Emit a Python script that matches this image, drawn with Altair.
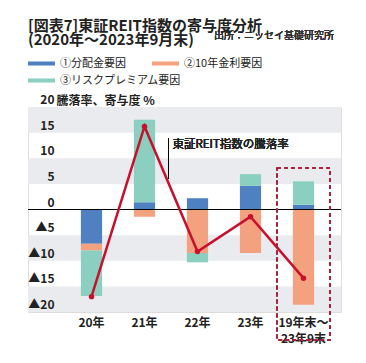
import altair as alt
import pandas as pd

# ---- data ----
categories = ["20年", "21年", "22年", "23年", "19年末～\n23年9末"]
factors = ["①分配金要因", "②10年金利要因", "③リスクプレミアム要因"]
dividend = [-6.7, 1.4, 2.2, 4.6, 0.9]
rate = [-1.3, -1.4, -8.5, -8.5, -18.6]
risk = [-8.9, 16.1, -1.8, 2.3, 4.6]
index_change = [-17.0, 16.2, -8.2, -1.4, -13.4]
band_lo = [15, 5, -5, -15]
band_hi = [20, 10, -10, -20]

colors = ["#4f80c1", "#f4a17f", "#8bcfc0"]
red = "#c8102e"
FONT = "Noto Sans CJK JP"

rows = []
for i, c in enumerate(categories):
    for j, vals in enumerate([dividend, rate, risk]):
        rows.append({"cat": c, "factor": factors[j], "ord": j, "value": vals[i]})
bars_df = pd.DataFrame(rows)
line_df = pd.DataFrame({"cat": categories, "value": index_change})
bands_df = pd.DataFrame({"lo": band_lo, "hi": band_hi})

xscale = alt.Scale(domain=categories, range=[37, 302], paddingInner=0.6, paddingOuter=0.3)
yscale = alt.Scale(domain=[-20, 20], nice=False, zero=False)

xaxis = alt.Axis(title=None, domain=False, ticks=False, labelAngle=0, labelPadding=5,
                 labelFontSize=12, labelFontWeight="bold", labelColor="#222",
                 labelExpr="split(datum.label, '\\n')", labelLineHeight=16,
                 labelBaseline="top", labelFont=FONT)
yaxis = alt.Axis(title="騰落率、寄与度 %", tickCount=8, grid=False, domain=False, ticks=False,
                 labelExpr="datum.value < 0 ? '▲' + abs(datum.value) : datum.label",
                 labelAlign="right", labelPadding=-26, labelBaseline="alphabetic",
                 labelOffset=-3.5, labelFontSize=12, labelFontWeight="bold",
                 labelOverlap=False, labelSeparation=0, labelFlush=False,
                 labelColor="#222", labelFont=FONT,
                 titleAngle=0, titleAlign="left", titleBaseline="middle", titleX=28, titleY=-7,
                 titleFontSize=12, titleFontWeight="bold", titleColor="#222", titleFont=FONT,
                 zindex=2)

X = alt.X("cat:N", scale=xscale, axis=xaxis, sort=categories)
Y = alt.Y("value:Q", scale=yscale, axis=yaxis, stack="zero")

bands = alt.Chart(bands_df).mark_rect(color="#e9ebee").encode(
    y=alt.Y("lo:Q", scale=yscale, axis=yaxis), y2="hi:Q"
)

bars = alt.Chart(bars_df).mark_bar().encode(
    x=X,
    y=Y,
    color=alt.Color("factor:N", scale=alt.Scale(domain=factors, range=colors),
                    legend=alt.Legend(title=None, orient="none", legendX=0, legendY=-57,
                                      direction="horizontal",
                                      columns=2, gridAlign="none", columnPadding=-29,
                                      rowPadding=-2,
                                      symbolType="M-1,-0.15L1,-0.15L1,0.15L-1,0.15Z",
                                      symbolSize=729, symbolStrokeWidth=0,
                                      labelFontSize=11, labelOffset=5, labelFont=FONT,
                                      labelColor="#222")),
    order=alt.Order("ord:Q"),
)

zero = alt.Chart(bars_df).mark_rule(color="black", strokeWidth=1.2).encode(y=alt.datum(0))

line = alt.Chart(line_df).mark_line(
    color=red, strokeWidth=2.5,
    point=alt.OverlayMarkDef(color=red, size=30, filled=True),
).encode(x=X, y=alt.Y("value:Q", scale=yscale, axis=yaxis))

leader = alt.Chart(line_df).mark_rule(color="black", strokeWidth=1, xOffset=24).encode(
    x=alt.datum("21年", scale=xscale), y=alt.datum(13.9), y2=alt.datum(6.0)
)
label = alt.Chart(line_df).mark_text(align="left", baseline="middle", dx=28, fontSize=11.5,
                                     font=FONT, fontWeight="normal", color="#222").encode(
    x=alt.datum("21年"), y=alt.datum(12.6), text=alt.value("東証REIT指数の騰落率")
)

box = alt.Chart(line_df).mark_bar(fillOpacity=0, stroke="#a8203a", strokeDash=[4, 3],
                                  strokeWidth=1.2, width=alt.RelativeBandSize(2.5)).encode(
    x=alt.datum(categories[-1]), y=alt.datum(8.1), y2=alt.datum(-25.5)
)

source = alt.Chart(line_df).mark_text(align="left", baseline="middle", fontSize=10,
                                      font=FONT, fontWeight="normal", color="#333").encode(
    x=alt.value(186), y=alt.value(-71), text=alt.value("出所：ニッセイ基礎研究所")
)

chart = alt.layer(bands, bars, zero, line, leader, label, box, source).properties(
    width=313, height=205,
    padding={"left": 19, "top": 11, "right": 5, "bottom": 5},
    title=alt.Title("[図表7]東証REIT指数の寄与度分析",
                    subtitle="(2020年～2023年9月末)",
                    anchor="start", frame="group", fontSize=15, fontWeight="bold",
                    subtitleFontSize=15, subtitleFontWeight="bold", subtitleFont=FONT,
                    subtitleColor="#222", subtitlePadding=-1, subtitleLineHeight=17,
                    lineHeight=17, offset=-17, font=FONT, color="#222"),
).configure_view(stroke=None).configure(background="white").configure_axisY(
    labelOverlap=False
)

chart.save("out.html", embed_options={"renderer": "svg", "actions": False})
